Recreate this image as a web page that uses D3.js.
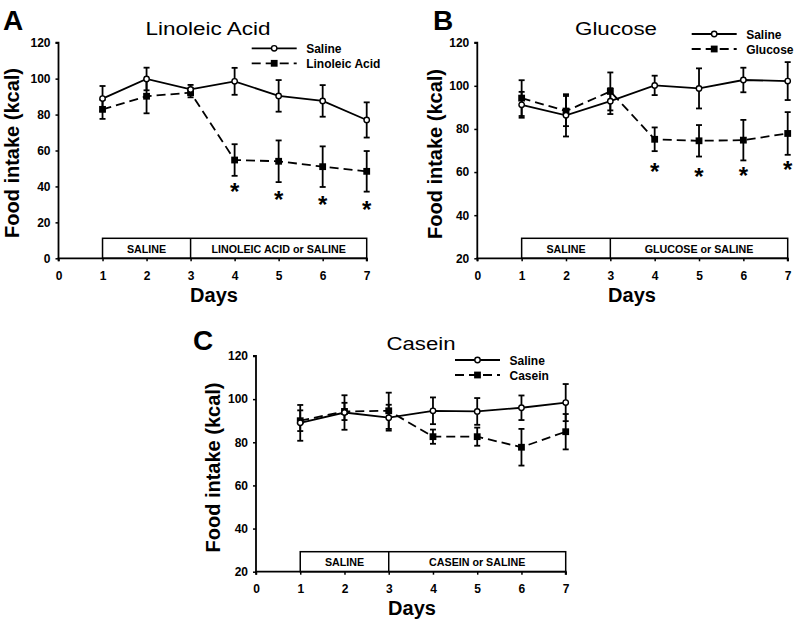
<!DOCTYPE html>
<html>
<head>
<meta charset="utf-8">
<script src="https://cdn.jsdelivr.net/npm/d3@7"></script>
<style>
  html, body { margin: 0; padding: 0; background: #fff; }
  svg { display: block; }
  text { font-family: Arial, "Liberation Sans", sans-serif; fill: #000; }
</style>
</head>
<body>
<svg id="chart" width="796" height="623"></svg>
<script>
// ---- data ----
const days = [1, 2, 3, 4, 5, 6, 7];
const xTickLabels = [0, 1, 2, 3, 4, 5, 6, 7];
const yTicksA = [0, 20, 40, 60, 80, 100, 120];
const yTicksBC = [20, 40, 60, 80, 100, 120];

const salineA = [88.9, 99.8, 94.0, 98.5, 90.4, 87.6, 77.0];
const salineAErr = [7.0, 6.3, 2.5, 7.5, 8.8, 8.8, 9.8];
const linoleic = [82.9, 90.2, 92.2, 54.7, 54.0, 51.0, 48.4];
const linoleicErr = [5.3, 9.5, 2.6, 8.8, 11.6, 11.3, 11.3];
const starDays = [4, 5, 6, 7];
const starsA = [40.0, 35.6, 33.0, 30.2];

const salineB = [91.2, 86.3, 92.9, 100.2, 98.8, 102.7, 102.2];
const salineBErr = [6.0, 9.8, 6.0, 4.5, 9.3, 5.7, 8.8];
const glucose = [94.3, 88.3, 97.4, 75.2, 74.5, 74.8, 77.9];
const glucoseErr = [8.3, 7.0, 8.8, 5.5, 7.3, 9.4, 9.9];
const starsB = [62.5, 60.1, 60.5, 63.3];

const salineC = [89.0, 93.8, 91.4, 94.6, 94.3, 96.0, 98.4];
const salineCErr = [8.3, 8.0, 6.0, 6.2, 6.2, 5.7, 8.6];
const casein = [90.0, 94.3, 94.6, 82.6, 82.6, 77.7, 84.9];
const caseinErr = [4.8, 4.0, 8.4, 3.3, 4.2, 8.5, 8.2];

const panelLetters = ["A", "B", "C"];
const panelTitles = ["Linoleic Acid", "Glucose", "Casein"];
const treatLabels = ["LINOLEIC ACID or SALINE", "GLUCOSE or SALINE", "CASEIN or SALINE"];
const legendNames = [["Saline", "Linoleic Acid"], ["Saline", "Glucose"], ["Saline", "Casein"]];

// ---- layout ----
const panels = [
  { letter: panelLetters[0], title: panelTitles[0], treat: treatLabels[0], legend: legendNames[0],
    sal: salineA, salErr: salineAErr, trt: linoleic, trtErr: linoleicErr, stars: starsA,
    yDomain: [0, 120], yTicks: yTicksA,
    x0: 58.5, x1: 366.7, yTop: 42.7, yBot: 258.3,
    letterPos: [3, 30], titlePos: [208, 35], titleLen: 125,
    ylabPos: [19, 153], daysPos: [214, 302], legPos: [251.7, 48.3] },
  { letter: panelLetters[1], title: panelTitles[1], treat: treatLabels[1], legend: legendNames[1],
    sal: salineB, salErr: salineBErr, trt: glucose, trtErr: glucoseErr, stars: starsB,
    yDomain: [20, 120], yTicks: yTicksBC,
    x0: 477.3, x1: 787.7, yTop: 42.7, yBot: 258.3,
    letterPos: [433, 30], titlePos: [616, 34.5], titleLen: 82,
    ylabPos: [441.5, 154], daysPos: [632, 302], legPos: [691.7, 34] },
  { letter: panelLetters[2], title: panelTitles[2], treat: treatLabels[2], legend: legendNames[2],
    sal: salineC, salErr: salineCErr, trt: casein, trtErr: caseinErr, stars: null,
    yDomain: [20, 120], yTicks: yTicksBC,
    x0: 256, x1: 565.7, yTop: 356, yBot: 571.7,
    letterPos: [193, 350], titlePos: [421, 350], titleLen: 69,
    ylabPos: [219.5, 467.5], daysPos: [412, 615], legPos: [455, 360] }
];

const svg = d3.select("#chart");
const LW = 1.8;

panels.forEach(p => {
  const x = d3.scaleLinear().domain([0, 7]).range([p.x0, p.x1]);
  const y = d3.scaleLinear().domain(p.yDomain).range([p.yBot, p.yTop]);
  const g = svg.append("g");

  // panel letter & title
  g.append("text").attr("x", p.letterPos[0]).attr("y", p.letterPos[1])
    .attr("font-size", 28).attr("font-weight", "bold").text(p.letter);
  g.append("text").attr("x", p.titlePos[0]).attr("y", p.titlePos[1])
    .attr("text-anchor", "middle").attr("font-size", 17.5)
    .attr("textLength", p.titleLen).attr("lengthAdjust", "spacingAndGlyphs")
    .text(p.title);

  // axes
  const yAxis = d3.axisLeft(y).tickValues(p.yTicks).tickSize(3).tickPadding(5).tickFormat(d3.format("d"));
  const xAxis = d3.axisBottom(x).tickValues(xTickLabels).tickSize(3).tickPadding(10).tickFormat(d3.format("d"));
  const ya = g.append("g").attr("transform", `translate(${p.x0},0)`).call(yAxis);
  const xa = g.append("g").attr("transform", `translate(0,${p.yBot})`).call(xAxis);
  [ya, xa].forEach(a => {
    a.select(".domain").attr("stroke", "#000").attr("stroke-width", LW);
    a.selectAll(".tick line").attr("stroke", "#000").attr("stroke-width", 1.5);
    a.selectAll(".tick text").attr("font-family", "Arial, 'Liberation Sans', sans-serif")
      .attr("font-size", 12).attr("font-weight", "bold").attr("fill", "#000");
  });
  ya.select(".domain").attr("d", `M-3,${p.yTop}H0V${p.yBot}`);
  xa.select(".domain").attr("d", `M${p.x0},3V0H${p.x1}V3`);

  // axis labels
  g.append("text")
    .attr("transform", `translate(${p.ylabPos[0]},${p.ylabPos[1]}) rotate(-90)`)
    .attr("text-anchor", "middle").attr("font-size", 20).attr("font-weight", "bold")
    .text("Food intake (kcal)");
  g.append("text").attr("x", p.daysPos[0]).attr("y", p.daysPos[1])
    .attr("text-anchor", "middle").attr("font-size", 20).attr("font-weight", "bold")
    .text("Days");

  // treatment box
  const bTop = p.yBot - 20;
  g.append("rect").attr("x", x(1)).attr("y", bTop).attr("width", x(7) - x(1)).attr("height", 20)
    .attr("fill", "none").attr("stroke", "#000").attr("stroke-width", 1.5);
  g.append("line").attr("x1", x(3)).attr("x2", x(3)).attr("y1", bTop).attr("y2", p.yBot)
    .attr("stroke", "#000").attr("stroke-width", 1.5);
  g.append("text").attr("x", (x(1) + x(3)) / 2).attr("y", p.yBot - 5.5)
    .attr("text-anchor", "middle").attr("font-size", 10.7).attr("font-weight", "bold").text("SALINE");
  g.append("text").attr("x", (x(3) + x(7)) / 2).attr("y", p.yBot - 5.5)
    .attr("text-anchor", "middle").attr("font-size", 10.7).attr("font-weight", "bold").text(p.treat);

  // error bars
  function errBars(vals, errs) {
    const eg = g.append("g").attr("stroke", "#000").attr("stroke-width", LW);
    days.forEach((d, i) => {
      const cx = x(d), lo = y(vals[i] - errs[i]), hi = y(vals[i] + errs[i]);
      eg.append("line").attr("x1", cx).attr("x2", cx).attr("y1", lo).attr("y2", hi);
      eg.append("line").attr("x1", cx - 3).attr("x2", cx + 3).attr("y1", lo).attr("y2", lo);
      eg.append("line").attr("x1", cx - 3).attr("x2", cx + 3).attr("y1", hi).attr("y2", hi);
    });
  }
  errBars(p.trt, p.trtErr);
  errBars(p.sal, p.salErr);

  const line = d3.line().x((d, i) => x(days[i])).y(d => y(d));
  g.append("path").datum(p.trt).attr("d", line).attr("fill", "none")
    .attr("stroke", "#000").attr("stroke-width", LW).attr("stroke-dasharray", "9,5");
  g.append("path").datum(p.sal).attr("d", line).attr("fill", "none")
    .attr("stroke", "#000").attr("stroke-width", LW);

  // markers
  g.selectAll(null).data(p.trt).enter().append("rect")
    .attr("x", (d, i) => x(days[i]) - 3.4).attr("y", d => y(d) - 3.4)
    .attr("width", 6.8).attr("height", 6.8).attr("fill", "#000");
  g.selectAll(null).data(p.sal).enter().append("circle")
    .attr("cx", (d, i) => x(days[i])).attr("cy", d => y(d)).attr("r", 2.7)
    .attr("fill", "#fff").attr("stroke", "#000").attr("stroke-width", 1.4);

  // significance stars
  if (p.stars) {
    g.selectAll(null).data(p.stars).enter().append("text")
      .attr("x", (d, i) => x(starDays[i])).attr("y", d => y(d) + 13.5)
      .attr("text-anchor", "middle").attr("font-size", 24).attr("font-weight", "bold").text("*");
  }

  // legend
  const lx = p.legPos[0], ly = p.legPos[1];
  const lw = 45;
  g.append("line").attr("x1", lx).attr("x2", lx + lw).attr("y1", ly).attr("y2", ly)
    .attr("stroke", "#000").attr("stroke-width", LW);
  g.append("circle").attr("cx", lx + lw / 2).attr("cy", ly).attr("r", 2.7)
    .attr("fill", "#fff").attr("stroke", "#000").attr("stroke-width", 1.4);
  const ly2 = ly + 15;
  g.append("line").attr("x1", lx).attr("x2", lx + lw).attr("y1", ly2).attr("y2", ly2)
    .attr("stroke", "#000").attr("stroke-width", LW).attr("stroke-dasharray", "9,5");
  g.append("rect").attr("x", lx + lw / 2 - 3.4).attr("y", ly2 - 3.4).attr("width", 6.8).attr("height", 6.8)
    .attr("fill", "#000");
  g.append("text").attr("x", lx + lw + 9.5).attr("y", ly + 4.5)
    .attr("font-size", 12).attr("font-weight", "bold").text(p.legend[0]);
  g.append("text").attr("x", lx + lw + 9.5).attr("y", ly2 + 4.5)
    .attr("font-size", 12).attr("font-weight", "bold").text(p.legend[1]);
});
</script>
</body>
</html>
